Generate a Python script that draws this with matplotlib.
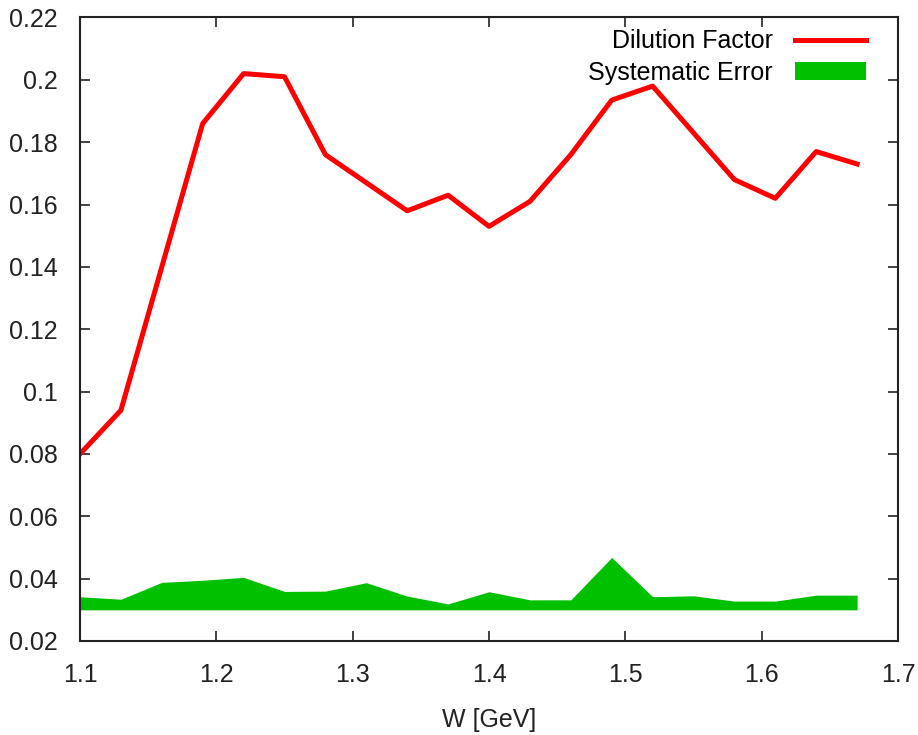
import matplotlib
matplotlib.use('Agg')
import matplotlib.pyplot as plt
from matplotlib.ticker import FormatStrFormatter

# W bins [GeV]
w = [1.10, 1.13, 1.16, 1.19, 1.22, 1.25, 1.28, 1.31, 1.34, 1.37,
     1.40, 1.43, 1.46, 1.49, 1.52, 1.55, 1.58, 1.61, 1.64, 1.67]

dilution = [0.080, 0.094, 0.140, 0.186, 0.202, 0.201, 0.176, 0.167, 0.158, 0.163,
            0.153, 0.161, 0.176, 0.1935, 0.198, 0.183, 0.168, 0.162, 0.177, 0.173]

sys_low = [0.030] * len(w)
sys_high = [0.0342, 0.0334, 0.0388, 0.0395, 0.0404, 0.0359, 0.0360, 0.0387, 0.0344, 0.0319,
            0.0358, 0.0332, 0.0332, 0.0468, 0.0342, 0.0345, 0.0328, 0.0328, 0.0347, 0.0347]

plt.rcParams['font.family'] = ['Liberation Sans', 'DejaVu Sans']
plt.rcParams['font.size'] = 18

fig = plt.figure(figsize=(9.18, 7.35), dpi=100)
ax = fig.add_axes([80 / 918, 94 / 735, 818 / 918, 623.5 / 735])

ax.plot(w, dilution, color='#ff0000', lw=3.6, label='Dilution Factor')
ax.fill_between(w, sys_low, sys_high, color='#00c000', lw=0, label='Systematic Error')

ax.set_xlim(1.1, 1.7)
ax.set_ylim(0.02, 0.22)
ax.set_xticks([1.1, 1.2, 1.3, 1.4, 1.5, 1.6, 1.7])
ax.set_yticks([0.02, 0.04, 0.06, 0.08, 0.10, 0.12, 0.14, 0.16, 0.18, 0.20, 0.22])
ax.xaxis.set_major_formatter(FormatStrFormatter('%g'))
ax.yaxis.set_major_formatter(FormatStrFormatter('%g'))
ax.tick_params(direction='in', length=7, width=1.2, top=True, right=True, color='#222222',
               labelcolor='#222222')
ax.tick_params(axis='x', pad=16)
ax.tick_params(axis='y', pad=16)
for s in ax.spines.values():
    s.set_linewidth(1.5)
    s.set_color('#222222')

ax.set_xlabel('W [GeV]', color='#222222', labelpad=15)

ax.legend(loc='upper right', frameon=False, markerfirst=False, fontsize=18,
          handlelength=2.85, handleheight=0.7, handletextpad=0.88, labelspacing=0.3,
          borderaxespad=0.3, bbox_to_anchor=(0.982, 1.009))

fig.savefig('out.png', dpi=100)
